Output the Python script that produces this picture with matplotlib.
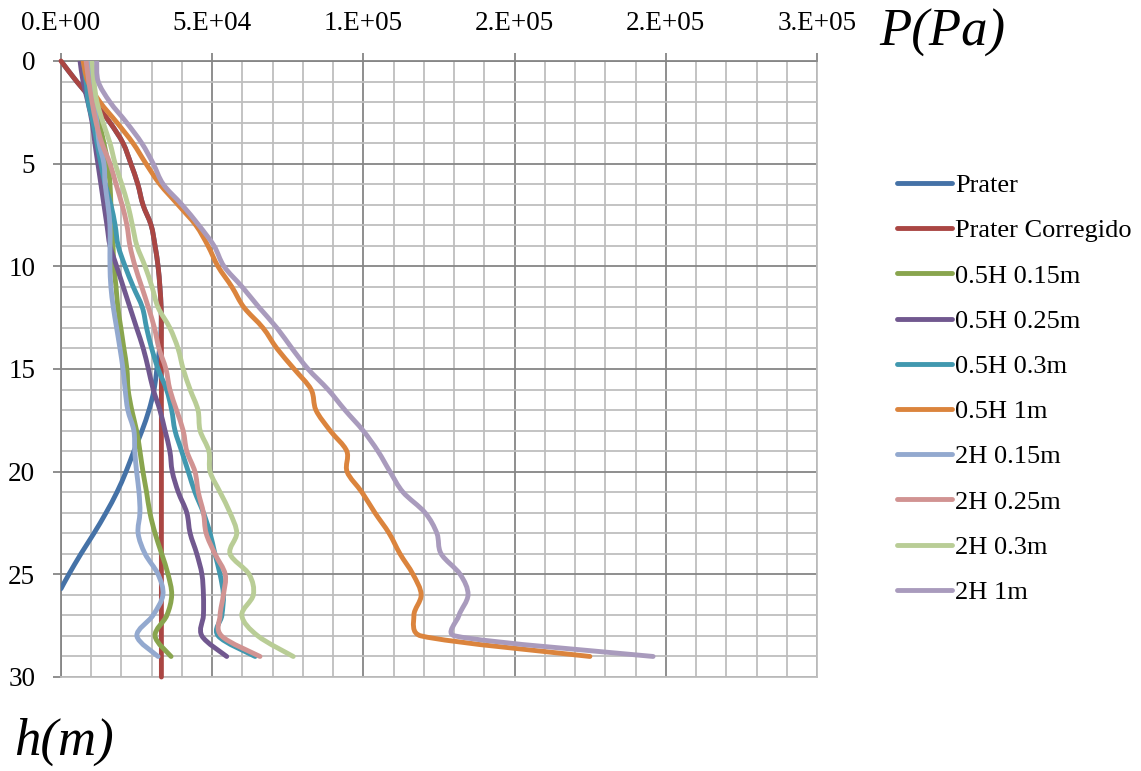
import numpy as np
import matplotlib.pyplot as plt
from matplotlib.path import Path
from matplotlib.patches import PathPatch
from matplotlib.lines import Line2D
from matplotlib.ticker import MultipleLocator, FixedLocator

# ---------------------------------------------
# Pressure profiles P(Pa) versus depth h(m)
# ---------------------------------------------
h_full = list(range(0, 30))          # 0 .. 29 m
h_red = list(range(0, 31))           # 0 .. 30 m
h_prater = list(range(0, 26)) + [25.7]

prater = [0, 5200, 10900, 16200, 20500, 23100, 25400, 27100, 29800, 31100,
          32100, 32700, 33100, 33100, 32600, 31700, 30800, 29100, 26800, 24100,
          21500, 18500, 14900, 10900, 6600, 2600, 0]
prater_corr = [0, 5200, 10900, 16200, 20500, 23100, 25400, 27100, 29800, 31100,
               32100, 32700, 33100, 33200, 33200, 33200, 33200, 33200, 33200, 33200,
               33200, 33200, 33200, 33200, 33200, 33200, 33200, 33200, 33200, 33200,
               33200]
h05_015 = [7900, 8900, 10600, 12600, 14200, 15500, 16200, 16500, 16900, 17200,
           17500, 18200, 18800, 19800, 20800, 21800, 22200, 23400, 25000, 26100,
           27100, 28300, 29400, 31100, 33300, 35400, 36600, 35000, 31100, 36400]
h05_025 = [6300, 7300, 8900, 10300, 11200, 12200, 13200, 14200, 15200, 16200,
           18400, 20600, 22800, 25000, 27200, 28900, 30500, 32700, 34400, 36000,
           36800, 38800, 41600, 42700, 44900, 46600, 47100, 47100, 46600, 54800]
h05_03 = [7400, 8300, 9000, 10600, 11900, 13200, 14600, 16500, 17900, 18900,
          21200, 23900, 26900, 28300, 30000, 32100, 34900, 36600, 37700, 39900,
          42100, 44300, 47100, 49300, 50900, 52600, 53700, 53200, 52000, 64200]
h05_1 = [7300, 8900, 12900, 18500, 23800, 28100, 32700, 38700, 44600, 48600,
         51900, 56500, 60500, 66800, 71400, 77100, 82700, 84300, 89000, 94500,
         94600, 99500, 103800, 108500, 112100, 116400, 119100, 116700, 119100, 174900]
h2_015 = [8900, 9600, 10900, 11900, 12600, 14200, 14600, 15500, 16200, 16200,
          16200, 16500, 17300, 18400, 19500, 20500, 21200, 22100, 24100, 24400,
          25000, 25800, 26100, 25500, 27800, 32100, 33700, 30400, 25100, 32100]
h2_025 = [8300, 9200, 10300, 11600, 13500, 16200, 18200, 20200, 21800, 22800,
          24500, 26700, 28900, 30900, 32400, 34700, 36000, 38200, 40400, 41600,
          44300, 45400, 47100, 48000, 50900, 54300, 53700, 52600, 53100, 65800]
h2_03 = [10300, 10900, 11900, 13900, 16200, 17900, 20100, 22100, 23600, 25100,
         27800, 30100, 32100, 36000, 38700, 40400, 42700, 45300, 46000, 48900,
         49300, 52600, 55900, 58100, 55900, 62200, 63600, 59800, 65100, 76800]
h2_1 = [11800, 12300, 16200, 21700, 26700, 30500, 33800, 40000, 45600, 50600,
        53900, 59900, 65500, 71400, 76400, 81700, 88300, 93900, 99900, 104800,
        108800, 113100, 120400, 124300, 125700, 132000, 134600, 131600, 130300, 195800]

x_ticks = [0, 50000, 100000, 150000, 200000, 250000]
x_tick_labels = ['0.E+00', '5.E+04', '1.E+05', '2.E+05', '2.E+05', '3.E+05']
y_ticks = [0, 5, 10, 15, 20, 25, 30]

series = [
    ('Prater', prater, h_prater, '#4572A7'),
    ('Prater Corregido', prater_corr, h_red, '#AA4643'),
    ('0.5H 0.15m', h05_015, h_full, '#89A54E'),
    ('0.5H 0.25m', h05_025, h_full, '#71588F'),
    ('0.5H 0.3m', h05_03, h_full, '#4198AF'),
    ('0.5H 1m', h05_1, h_full, '#DB843D'),
    ('2H 0.15m', h2_015, h_full, '#93A9CF'),
    ('2H 0.25m', h2_025, h_full, '#D19392'),
    ('2H 0.3m', h2_03, h_full, '#B9CD96'),
    ('2H 1m', h2_1, h_full, '#A99BBD'),
]

XMAX, YMAX = 250000, 30
SCALE = np.array([756 / XMAX, 616 / YMAX])   # data units -> roughly pixels


def smooth_path(xs, ys):
    # smoothed line through the points, as cubic bezier segments;
    # handle length is capped so large jumps don't make loops
    pts = np.column_stack([xs, ys]).astype(float)
    n = len(pts)

    def handle(d, seg):
        L = np.hypot(*(d * SCALE))
        lim = 0.5 * np.hypot(*(seg * SCALE))
        return d if L <= lim or L == 0 else d * lim / L

    verts = [pts[0]]
    codes = [Path.MOVETO]
    for i in range(n - 1):
        p0 = pts[i - 1] if i > 0 else pts[i]
        p1, p2 = pts[i], pts[i + 1]
        p3 = pts[i + 2] if i + 2 < n else pts[i + 1]
        seg = p2 - p1
        verts += [p1 + handle((p2 - p0) / 6, seg), p2 - handle((p3 - p1) / 6, seg), p2]
        codes += [Path.CURVE4] * 3
    return Path(verts, codes)


plt.rcParams['font.family'] = ['Liberation Serif', 'DejaVu Serif']

fig = plt.figure(figsize=(11.41, 7.71), dpi=100)
ax = fig.add_axes([61 / 1141, 1 - 677 / 771, (817 - 61) / 1141, (677 - 61) / 771])

LW = 3.5
handles = []
for name, p, h, color in series:
    patch = PathPatch(smooth_path(p, h), fill=False, edgecolor=color, lw=LW,
                      capstyle='round', joinstyle='round', zorder=3)
    if name == 'Prater Corregido':
        patch.set_clip_on(False)
    ax.add_patch(patch)
    handles.append(Line2D([], [], color=color, lw=LW, solid_capstyle='round'))

ax.set_xlim(0, XMAX)
ax.set_ylim(YMAX, 0)

ax.xaxis.set_major_locator(FixedLocator(x_ticks))
ax.set_xticklabels(x_tick_labels)
ax.xaxis.set_minor_locator(MultipleLocator(10000))
ax.yaxis.set_major_locator(FixedLocator(y_ticks))
ax.yaxis.set_minor_locator(MultipleLocator(1))

ax.xaxis.tick_top()
ax.tick_params(axis='both', which='major', direction='out', length=6, width=1.3,
               color='#868686', labelsize=19.5, labelcolor='black')
ax.tick_params(axis='x', which='major', pad=12)
ax.tick_params(axis='y', which='major', pad=12.5)
ax.tick_params(which='minor', length=0)

ax.grid(which='minor', color='#BEBEBE', lw=1.3, zorder=0)
ax.grid(which='major', color='#868686', lw=1.3, zorder=1)
ax.set_axisbelow(True)
for side in ['left', 'top']:
    ax.spines[side].set_color('#868686')
    ax.spines[side].set_linewidth(1.3)
for side in ['right', 'bottom']:
    ax.spines[side].set_color('#BEBEBE')
    ax.spines[side].set_linewidth(1.3)

fig.text(879 / 1141, 1 - 33 / 771, 'P(Pa)', fontsize=38, style='italic',
         ha='left', va='center')
fig.text(14 / 1141, 1 - 742 / 771, 'h(m)', fontsize=38, style='italic',
         ha='left', va='center')

labels = [s[0] for s in series]
fig.legend(handles, labels, loc='upper left', bbox_to_anchor=(886 / 1141, 1 - 163 / 771),
           frameon=False, fontsize=19, handlelength=2.1, handletextpad=0.12,
           labelspacing=0.825, borderaxespad=0)

fig.savefig('out.png', dpi=100)
